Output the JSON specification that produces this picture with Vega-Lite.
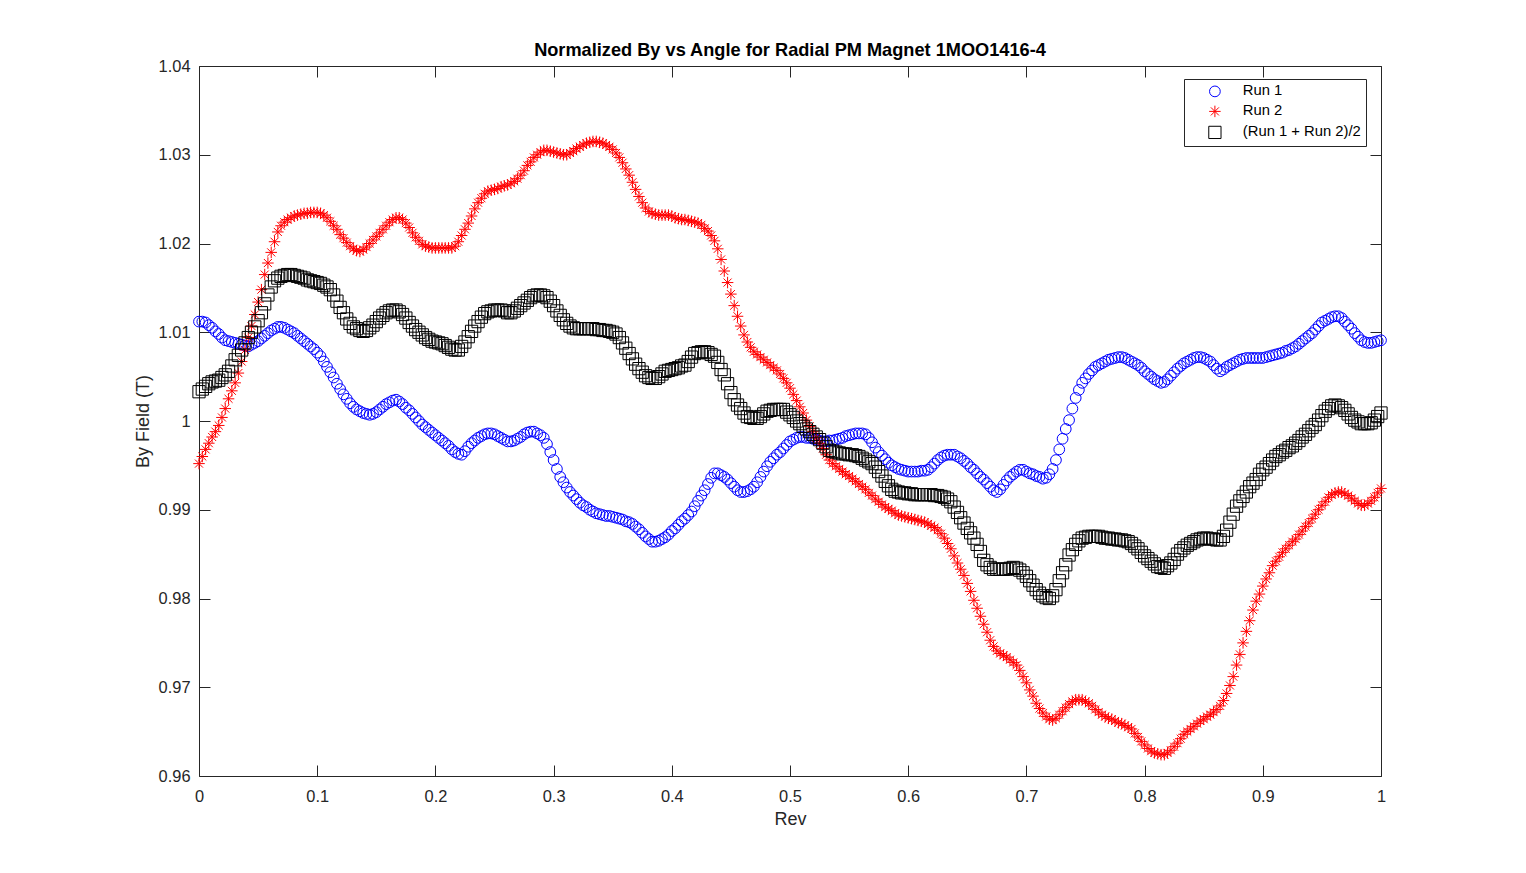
{
"$schema":"https://vega.github.io/schema/vega-lite/v6.json",
"width":1182,"height":710,
"autosize":{"type":"none"},
"padding":{"left":199,"top":66,"right":145,"bottom":97},
"background":"white",
"title":{"text":"Normalized By vs Angle for Radial PM Magnet 1MOO1416-4","font":"Liberation Sans","fontSize":18.2,"fontWeight":"bold","color":"#000000","offset":6,"dy":8,"anchor":"middle"},
"data":{"values":[
{"x":0,"a":1.0112,"b":0.9952,"c":1.0033},
{"x":0.0028,"a":1.0112,"b":0.996,"c":1.0036},
{"x":0.0056,"a":1.0111,"b":0.9968,"c":1.0039},
{"x":0.0083,"a":1.0108,"b":0.9975,"c":1.0042},
{"x":0.0111,"a":1.0105,"b":0.9982,"c":1.0044},
{"x":0.0139,"a":1.0101,"b":0.9988,"c":1.0045},
{"x":0.0167,"a":1.0098,"b":0.9995,"c":1.0046},
{"x":0.0194,"a":1.0094,"b":1.0004,"c":1.0049},
{"x":0.0222,"a":1.0091,"b":1.0014,"c":1.0052},
{"x":0.025,"a":1.009,"b":1.0025,"c":1.0056},
{"x":0.0278,"a":1.0089,"b":1.0034,"c":1.0062},
{"x":0.0306,"a":1.0088,"b":1.0043,"c":1.0069},
{"x":0.0333,"a":1.0087,"b":1.0054,"c":1.0074},
{"x":0.0361,"a":1.0086,"b":1.0067,"c":1.008},
{"x":0.0389,"a":1.0085,"b":1.008,"c":1.0088},
{"x":0.0417,"a":1.0084,"b":1.0094,"c":1.0094},
{"x":0.0444,"a":1.0086,"b":1.0107,"c":1.01},
{"x":0.0472,"a":1.0088,"b":1.012,"c":1.0106},
{"x":0.05,"a":1.009,"b":1.0134,"c":1.0113},
{"x":0.0528,"a":1.0093,"b":1.0148,"c":1.0122},
{"x":0.0556,"a":1.0096,"b":1.0165,"c":1.0132},
{"x":0.0583,"a":1.0099,"b":1.0178,"c":1.0142},
{"x":0.0611,"a":1.0102,"b":1.019,"c":1.0151},
{"x":0.0639,"a":1.0104,"b":1.0202,"c":1.0158},
{"x":0.0667,"a":1.0106,"b":1.0213,"c":1.0161},
{"x":0.0694,"a":1.0106,"b":1.022,"c":1.0163},
{"x":0.0722,"a":1.0105,"b":1.0224,"c":1.0164},
{"x":0.075,"a":1.0103,"b":1.0227,"c":1.0165},
{"x":0.0778,"a":1.0101,"b":1.0229,"c":1.0165},
{"x":0.0806,"a":1.0099,"b":1.0231,"c":1.0164},
{"x":0.0833,"a":1.0096,"b":1.0232,"c":1.0163},
{"x":0.0861,"a":1.0093,"b":1.0233,"c":1.0162},
{"x":0.0889,"a":1.009,"b":1.0234,"c":1.0161},
{"x":0.0917,"a":1.0087,"b":1.0234,"c":1.0159},
{"x":0.0944,"a":1.0084,"b":1.0235,"c":1.0158},
{"x":0.0972,"a":1.0081,"b":1.0235,"c":1.0157},
{"x":0.1,"a":1.0077,"b":1.0235,"c":1.0156},
{"x":0.1028,"a":1.0073,"b":1.0234,"c":1.0155},
{"x":0.1056,"a":1.0067,"b":1.0232,"c":1.0153},
{"x":0.1083,"a":1.0061,"b":1.0229,"c":1.0151},
{"x":0.1111,"a":1.0055,"b":1.0225,"c":1.0148},
{"x":0.1139,"a":1.0049,"b":1.022,"c":1.0142},
{"x":0.1167,"a":1.0042,"b":1.0216,"c":1.0135},
{"x":0.1194,"a":1.0036,"b":1.021,"c":1.0128},
{"x":0.1222,"a":1.003,"b":1.0206,"c":1.0122},
{"x":0.125,"a":1.0025,"b":1.0201,"c":1.0115},
{"x":0.1278,"a":1.002,"b":1.0197,"c":1.011},
{"x":0.1306,"a":1.0016,"b":1.0194,"c":1.0106},
{"x":0.1333,"a":1.0013,"b":1.0192,"c":1.0104},
{"x":0.1361,"a":1.0011,"b":1.0191,"c":1.0102},
{"x":0.1389,"a":1.0009,"b":1.0193,"c":1.0101},
{"x":0.1417,"a":1.0008,"b":1.0196,"c":1.0102},
{"x":0.1444,"a":1.0007,"b":1.02,"c":1.0105},
{"x":0.1472,"a":1.0008,"b":1.0204,"c":1.0108},
{"x":0.15,"a":1.001,"b":1.0208,"c":1.0112},
{"x":0.1528,"a":1.0013,"b":1.0212,"c":1.0116},
{"x":0.1556,"a":1.0016,"b":1.0216,"c":1.0119},
{"x":0.1583,"a":1.0019,"b":1.022,"c":1.0122},
{"x":0.1611,"a":1.0021,"b":1.0224,"c":1.0124},
{"x":0.1639,"a":1.0023,"b":1.0227,"c":1.0125},
{"x":0.1667,"a":1.0024,"b":1.0229,"c":1.0125},
{"x":0.1694,"a":1.0022,"b":1.0229,"c":1.0123},
{"x":0.1722,"a":1.0019,"b":1.0227,"c":1.012},
{"x":0.175,"a":1.0015,"b":1.0223,"c":1.0116},
{"x":0.1778,"a":1.0012,"b":1.0218,"c":1.0111},
{"x":0.1806,"a":1.0008,"b":1.0212,"c":1.0107},
{"x":0.1833,"a":1.0004,"b":1.0207,"c":1.0103},
{"x":0.1861,"a":1.0,"b":1.0203,"c":1.01},
{"x":0.1889,"a":0.9996,"b":1.0199,"c":1.0097},
{"x":0.1917,"a":0.9993,"b":1.0197,"c":1.0094},
{"x":0.1944,"a":0.999,"b":1.0196,"c":1.0092},
{"x":0.1972,"a":0.9987,"b":1.0195,"c":1.009},
{"x":0.2,"a":0.9984,"b":1.0195,"c":1.0089},
{"x":0.2028,"a":0.9981,"b":1.0195,"c":1.0088},
{"x":0.2056,"a":0.9978,"b":1.0195,"c":1.0087},
{"x":0.2083,"a":0.9975,"b":1.0195,"c":1.0085},
{"x":0.2111,"a":0.9972,"b":1.0195,"c":1.0083},
{"x":0.2139,"a":0.9968,"b":1.0195,"c":1.0081},
{"x":0.2167,"a":0.9965,"b":1.0197,"c":1.008},
{"x":0.2194,"a":0.9963,"b":1.0202,"c":1.008},
{"x":0.2222,"a":0.9962,"b":1.0209,"c":1.0084},
{"x":0.225,"a":0.9966,"b":1.0216,"c":1.0089},
{"x":0.2278,"a":0.9971,"b":1.0223,"c":1.0095},
{"x":0.2306,"a":0.9975,"b":1.0231,"c":1.0101},
{"x":0.2333,"a":0.9978,"b":1.0239,"c":1.0107},
{"x":0.2361,"a":0.9981,"b":1.0246,"c":1.0112},
{"x":0.2389,"a":0.9983,"b":1.0251,"c":1.0117},
{"x":0.2417,"a":0.9985,"b":1.0256,"c":1.0121},
{"x":0.2444,"a":0.9986,"b":1.0259,"c":1.0123},
{"x":0.2472,"a":0.9986,"b":1.026,"c":1.0124},
{"x":0.25,"a":0.9985,"b":1.0261,"c":1.0125},
{"x":0.2528,"a":0.9983,"b":1.0262,"c":1.0125},
{"x":0.2556,"a":0.9981,"b":1.0264,"c":1.0125},
{"x":0.2583,"a":0.9979,"b":1.0265,"c":1.0124},
{"x":0.2611,"a":0.9977,"b":1.0266,"c":1.0122},
{"x":0.2639,"a":0.9977,"b":1.0268,"c":1.0122},
{"x":0.2667,"a":0.9978,"b":1.027,"c":1.0124},
{"x":0.2694,"a":0.998,"b":1.0273,"c":1.0127},
{"x":0.2722,"a":0.9982,"b":1.0277,"c":1.013},
{"x":0.275,"a":0.9985,"b":1.0282,"c":1.0133},
{"x":0.2778,"a":0.9987,"b":1.0288,"c":1.0136},
{"x":0.2806,"a":0.9988,"b":1.0292,"c":1.0139},
{"x":0.2833,"a":0.9988,"b":1.0297,"c":1.0141},
{"x":0.2861,"a":0.9986,"b":1.03,"c":1.0142},
{"x":0.2889,"a":0.9984,"b":1.0303,"c":1.0142},
{"x":0.2917,"a":0.9981,"b":1.0305,"c":1.0141},
{"x":0.2944,"a":0.9974,"b":1.0305,"c":1.0139},
{"x":0.2972,"a":0.9965,"b":1.0304,"c":1.0135},
{"x":0.3,"a":0.9956,"b":1.0303,"c":1.013},
{"x":0.3028,"a":0.9946,"b":1.0302,"c":1.0124},
{"x":0.3056,"a":0.9937,"b":1.0301,"c":1.0119},
{"x":0.3083,"a":0.9931,"b":1.03,"c":1.0114},
{"x":0.3111,"a":0.9925,"b":1.03,"c":1.011},
{"x":0.3139,"a":0.992,"b":1.0302,"c":1.0107},
{"x":0.3167,"a":0.9916,"b":1.0304,"c":1.0105},
{"x":0.3194,"a":0.9912,"b":1.0307,"c":1.0104},
{"x":0.3222,"a":0.9908,"b":1.0309,"c":1.0104},
{"x":0.325,"a":0.9905,"b":1.0311,"c":1.0104},
{"x":0.3278,"a":0.9903,"b":1.0313,"c":1.0104},
{"x":0.3306,"a":0.99,"b":1.0314,"c":1.0104},
{"x":0.3333,"a":0.9898,"b":1.0315,"c":1.0104},
{"x":0.3361,"a":0.9896,"b":1.0315,"c":1.0103},
{"x":0.3389,"a":0.9895,"b":1.0314,"c":1.0103},
{"x":0.3417,"a":0.9894,"b":1.0313,"c":1.0102},
{"x":0.3444,"a":0.9893,"b":1.0311,"c":1.0102},
{"x":0.3472,"a":0.9893,"b":1.0309,"c":1.0101},
{"x":0.35,"a":0.9892,"b":1.0306,"c":1.01},
{"x":0.3528,"a":0.9891,"b":1.0302,"c":1.0098},
{"x":0.3556,"a":0.989,"b":1.0297,"c":1.0094},
{"x":0.3583,"a":0.9889,"b":1.0291,"c":1.0088},
{"x":0.3611,"a":0.9887,"b":1.0284,"c":1.0082},
{"x":0.3639,"a":0.9886,"b":1.0277,"c":1.0076},
{"x":0.3667,"a":0.9884,"b":1.0269,"c":1.007},
{"x":0.3694,"a":0.9881,"b":1.0261,"c":1.0064},
{"x":0.3722,"a":0.9878,"b":1.0253,"c":1.0059},
{"x":0.375,"a":0.9874,"b":1.0246,"c":1.0055},
{"x":0.3778,"a":0.987,"b":1.024,"c":1.0051},
{"x":0.3806,"a":0.9867,"b":1.0236,"c":1.0049},
{"x":0.3833,"a":0.9864,"b":1.0234,"c":1.0048},
{"x":0.3861,"a":0.9864,"b":1.0233,"c":1.0048},
{"x":0.3889,"a":0.9865,"b":1.0232,"c":1.005},
{"x":0.3917,"a":0.9867,"b":1.0232,"c":1.0053},
{"x":0.3944,"a":0.9869,"b":1.0232,"c":1.0056},
{"x":0.3972,"a":0.9872,"b":1.0232,"c":1.0057},
{"x":0.4,"a":0.9876,"b":1.0231,"c":1.0058},
{"x":0.4028,"a":0.9879,"b":1.0229,"c":1.0059},
{"x":0.4056,"a":0.9883,"b":1.0228,"c":1.006},
{"x":0.4083,"a":0.9887,"b":1.0227,"c":1.0062},
{"x":0.4111,"a":0.989,"b":1.0227,"c":1.0063},
{"x":0.4139,"a":0.9894,"b":1.0226,"c":1.0067},
{"x":0.4167,"a":0.9898,"b":1.0225,"c":1.0072},
{"x":0.4194,"a":0.9904,"b":1.0224,"c":1.0076},
{"x":0.4222,"a":0.991,"b":1.0223,"c":1.0077},
{"x":0.425,"a":0.9916,"b":1.0221,"c":1.0078},
{"x":0.4278,"a":0.9922,"b":1.0217,"c":1.0078},
{"x":0.4306,"a":0.9929,"b":1.0214,"c":1.0077},
{"x":0.4333,"a":0.9936,"b":1.0209,"c":1.0075},
{"x":0.4361,"a":0.9941,"b":1.0203,"c":1.0073},
{"x":0.4389,"a":0.9941,"b":1.0194,"c":1.0066},
{"x":0.4417,"a":0.9939,"b":1.0182,"c":1.0058},
{"x":0.4444,"a":0.9937,"b":1.0169,"c":1.0052},
{"x":0.4472,"a":0.9934,"b":1.0156,"c":1.0042},
{"x":0.45,"a":0.993,"b":1.0143,"c":1.0032},
{"x":0.4528,"a":0.9926,"b":1.013,"c":1.0024},
{"x":0.4556,"a":0.9922,"b":1.0118,"c":1.0018},
{"x":0.4583,"a":0.992,"b":1.0107,"c":1.0014},
{"x":0.4611,"a":0.992,"b":1.0097,"c":1.0009},
{"x":0.4639,"a":0.9921,"b":1.0089,"c":1.0005},
{"x":0.4667,"a":0.9923,"b":1.0083,"c":1.0004},
{"x":0.4694,"a":0.9926,"b":1.0078,"c":1.0003},
{"x":0.4722,"a":0.9931,"b":1.0075,"c":1.0003},
{"x":0.475,"a":0.9937,"b":1.0072,"c":1.0005},
{"x":0.4778,"a":0.9943,"b":1.0069,"c":1.0008},
{"x":0.4806,"a":0.9949,"b":1.0066,"c":1.0011},
{"x":0.4833,"a":0.9954,"b":1.0063,"c":1.0012},
{"x":0.4861,"a":0.9958,"b":1.006,"c":1.0013},
{"x":0.4889,"a":0.9962,"b":1.0057,"c":1.0013},
{"x":0.4917,"a":0.9965,"b":1.0053,"c":1.0013},
{"x":0.4944,"a":0.9969,"b":1.0048,"c":1.0013},
{"x":0.4972,"a":0.9973,"b":1.0043,"c":1.001},
{"x":0.5,"a":0.9977,"b":1.0037,"c":1.0007},
{"x":0.5028,"a":0.9979,"b":1.003,"c":1.0004},
{"x":0.5056,"a":0.9981,"b":1.0023,"c":1.0},
{"x":0.5083,"a":0.9982,"b":1.0016,"c":0.9997},
{"x":0.5111,"a":0.9982,"b":1.0009,"c":0.9994},
{"x":0.5139,"a":0.9981,"b":1.0001,"c":0.9991},
{"x":0.5167,"a":0.9981,"b":0.9994,"c":0.9988},
{"x":0.5194,"a":0.998,"b":0.9988,"c":0.9985},
{"x":0.5222,"a":0.9979,"b":0.9981,"c":0.9982},
{"x":0.525,"a":0.9978,"b":0.9975,"c":0.9979},
{"x":0.5278,"a":0.9977,"b":0.9969,"c":0.9975},
{"x":0.5306,"a":0.9977,"b":0.9962,"c":0.9971},
{"x":0.5333,"a":0.9978,"b":0.9956,"c":0.9967},
{"x":0.5361,"a":0.9978,"b":0.9952,"c":0.9966},
{"x":0.5389,"a":0.9979,"b":0.9949,"c":0.9965},
{"x":0.5417,"a":0.998,"b":0.9946,"c":0.9964},
{"x":0.5444,"a":0.9981,"b":0.9943,"c":0.9963},
{"x":0.5472,"a":0.9983,"b":0.994,"c":0.9963},
{"x":0.55,"a":0.9984,"b":0.9938,"c":0.9962},
{"x":0.5528,"a":0.9985,"b":0.9935,"c":0.9962},
{"x":0.5556,"a":0.9986,"b":0.9932,"c":0.9961},
{"x":0.5583,"a":0.9986,"b":0.9929,"c":0.996},
{"x":0.5611,"a":0.9986,"b":0.9926,"c":0.9958},
{"x":0.5639,"a":0.9985,"b":0.9923,"c":0.9956},
{"x":0.5667,"a":0.9981,"b":0.9919,"c":0.9954},
{"x":0.5694,"a":0.9976,"b":0.9916,"c":0.9952},
{"x":0.5722,"a":0.997,"b":0.9912,"c":0.9948},
{"x":0.575,"a":0.9965,"b":0.9909,"c":0.9943},
{"x":0.5778,"a":0.9961,"b":0.9906,"c":0.9938},
{"x":0.5806,"a":0.9957,"b":0.9903,"c":0.9932},
{"x":0.5833,"a":0.9953,"b":0.9901,"c":0.9927},
{"x":0.5861,"a":0.995,"b":0.9899,"c":0.9923},
{"x":0.5889,"a":0.9948,"b":0.9896,"c":0.9921},
{"x":0.5917,"a":0.9946,"b":0.9894,"c":0.992},
{"x":0.5944,"a":0.9945,"b":0.9893,"c":0.9919},
{"x":0.5972,"a":0.9944,"b":0.9892,"c":0.9919},
{"x":0.6,"a":0.9943,"b":0.9891,"c":0.9918},
{"x":0.6028,"a":0.9943,"b":0.989,"c":0.9918},
{"x":0.6056,"a":0.9943,"b":0.9889,"c":0.9917},
{"x":0.6083,"a":0.9943,"b":0.9888,"c":0.9917},
{"x":0.6111,"a":0.9944,"b":0.9887,"c":0.9917},
{"x":0.6139,"a":0.9944,"b":0.9886,"c":0.9917},
{"x":0.6167,"a":0.9945,"b":0.9884,"c":0.9917},
{"x":0.6194,"a":0.9948,"b":0.9882,"c":0.9917},
{"x":0.6222,"a":0.9952,"b":0.988,"c":0.9916},
{"x":0.625,"a":0.9956,"b":0.9877,"c":0.9916},
{"x":0.6278,"a":0.9959,"b":0.9873,"c":0.9915},
{"x":0.6306,"a":0.9961,"b":0.9868,"c":0.9914},
{"x":0.6333,"a":0.9962,"b":0.9862,"c":0.9912},
{"x":0.6361,"a":0.9962,"b":0.9856,"c":0.9909},
{"x":0.6389,"a":0.9962,"b":0.9848,"c":0.9903},
{"x":0.6417,"a":0.996,"b":0.984,"c":0.9897},
{"x":0.6444,"a":0.9958,"b":0.9833,"c":0.9891},
{"x":0.6472,"a":0.9955,"b":0.9826,"c":0.9885},
{"x":0.65,"a":0.9952,"b":0.9817,"c":0.9879},
{"x":0.6528,"a":0.9948,"b":0.9808,"c":0.9874},
{"x":0.6556,"a":0.9945,"b":0.9798,"c":0.9868},
{"x":0.6583,"a":0.9941,"b":0.9789,"c":0.9861},
{"x":0.6611,"a":0.9937,"b":0.978,"c":0.9853},
{"x":0.6639,"a":0.9934,"b":0.9771,"c":0.9843},
{"x":0.6667,"a":0.993,"b":0.9762,"c":0.9838},
{"x":0.6694,"a":0.9926,"b":0.9753,"c":0.9835},
{"x":0.6722,"a":0.9922,"b":0.9746,"c":0.9833},
{"x":0.675,"a":0.992,"b":0.9741,"c":0.9833},
{"x":0.6778,"a":0.9923,"b":0.9738,"c":0.9833},
{"x":0.6806,"a":0.9928,"b":0.9736,"c":0.9833},
{"x":0.6833,"a":0.9933,"b":0.9734,"c":0.9833},
{"x":0.6861,"a":0.9937,"b":0.9731,"c":0.9834},
{"x":0.6889,"a":0.994,"b":0.9728,"c":0.9835},
{"x":0.6917,"a":0.9943,"b":0.9725,"c":0.9834},
{"x":0.6944,"a":0.9945,"b":0.9719,"c":0.9832},
{"x":0.6972,"a":0.9945,"b":0.9712,"c":0.9829},
{"x":0.7,"a":0.9943,"b":0.9705,"c":0.9825},
{"x":0.7028,"a":0.9941,"b":0.9697,"c":0.982},
{"x":0.7056,"a":0.994,"b":0.969,"c":0.9815},
{"x":0.7083,"a":0.9938,"b":0.9682,"c":0.981},
{"x":0.7111,"a":0.9937,"b":0.9676,"c":0.9806},
{"x":0.7139,"a":0.9935,"b":0.9671,"c":0.9803},
{"x":0.7167,"a":0.9936,"b":0.9667,"c":0.9801},
{"x":0.7194,"a":0.994,"b":0.9664,"c":0.98},
{"x":0.7222,"a":0.9946,"b":0.9663,"c":0.9803},
{"x":0.725,"a":0.9956,"b":0.9665,"c":0.981},
{"x":0.7278,"a":0.9968,"b":0.9669,"c":0.982},
{"x":0.7306,"a":0.998,"b":0.9673,"c":0.9829},
{"x":0.7333,"a":0.9991,"b":0.9677,"c":0.9838},
{"x":0.7361,"a":1.0001,"b":0.9681,"c":0.9849},
{"x":0.7389,"a":1.0014,"b":0.9684,"c":0.9855},
{"x":0.7417,"a":1.0026,"b":0.9686,"c":0.9861},
{"x":0.7444,"a":1.0035,"b":0.9686,"c":0.9865},
{"x":0.7472,"a":1.0043,"b":0.9686,"c":0.9868},
{"x":0.75,"a":1.0048,"b":0.9684,"c":0.9869},
{"x":0.7528,"a":1.0053,"b":0.9682,"c":0.987},
{"x":0.7556,"a":1.0057,"b":0.9679,"c":0.987},
{"x":0.7583,"a":1.0061,"b":0.9675,"c":0.987},
{"x":0.7611,"a":1.0063,"b":0.9672,"c":0.987},
{"x":0.7639,"a":1.0065,"b":0.9669,"c":0.9869},
{"x":0.7667,"a":1.0067,"b":0.9667,"c":0.9868},
{"x":0.7694,"a":1.0069,"b":0.9665,"c":0.9868},
{"x":0.7722,"a":1.007,"b":0.9664,"c":0.9867},
{"x":0.775,"a":1.0071,"b":0.9662,"c":0.9867},
{"x":0.7778,"a":1.0072,"b":0.966,"c":0.9866},
{"x":0.7806,"a":1.0072,"b":0.9659,"c":0.9866},
{"x":0.7833,"a":1.0071,"b":0.9657,"c":0.9865},
{"x":0.7861,"a":1.0069,"b":0.9655,"c":0.9864},
{"x":0.7889,"a":1.0067,"b":0.9653,"c":0.9862},
{"x":0.7917,"a":1.0065,"b":0.9648,"c":0.9859},
{"x":0.7944,"a":1.0063,"b":0.9644,"c":0.9856},
{"x":0.7972,"a":1.006,"b":0.9639,"c":0.9852},
{"x":0.8,"a":1.0056,"b":0.9635,"c":0.9848},
{"x":0.8028,"a":1.0053,"b":0.9631,"c":0.9845},
{"x":0.8056,"a":1.005,"b":0.9628,"c":0.9842},
{"x":0.8083,"a":1.0047,"b":0.9626,"c":0.9839},
{"x":0.8111,"a":1.0045,"b":0.9625,"c":0.9836},
{"x":0.8139,"a":1.0043,"b":0.9624,"c":0.9835},
{"x":0.8167,"a":1.0044,"b":0.9624,"c":0.9834},
{"x":0.8194,"a":1.0047,"b":0.9626,"c":0.9837},
{"x":0.8222,"a":1.0051,"b":0.9629,"c":0.984},
{"x":0.825,"a":1.0055,"b":0.9633,"c":0.9844},
{"x":0.8278,"a":1.0059,"b":0.9637,"c":0.985},
{"x":0.8306,"a":1.0062,"b":0.9642,"c":0.9854},
{"x":0.8333,"a":1.0065,"b":0.9647,"c":0.9857},
{"x":0.8361,"a":1.0067,"b":0.965,"c":0.986},
{"x":0.8389,"a":1.0069,"b":0.9653,"c":0.9862},
{"x":0.8417,"a":1.0071,"b":0.9656,"c":0.9864},
{"x":0.8444,"a":1.0072,"b":0.9659,"c":0.9866},
{"x":0.8472,"a":1.0072,"b":0.9662,"c":0.9867},
{"x":0.85,"a":1.0071,"b":0.9664,"c":0.9868},
{"x":0.8528,"a":1.0069,"b":0.9667,"c":0.9868},
{"x":0.8556,"a":1.0067,"b":0.9669,"c":0.9867},
{"x":0.8583,"a":1.0063,"b":0.9672,"c":0.9867},
{"x":0.8611,"a":1.0059,"b":0.9675,"c":0.9866},
{"x":0.8639,"a":1.0056,"b":0.9679,"c":0.9866},
{"x":0.8667,"a":1.0058,"b":0.9685,"c":0.987},
{"x":0.8694,"a":1.0061,"b":0.9693,"c":0.9877},
{"x":0.8722,"a":1.0063,"b":0.9702,"c":0.9886},
{"x":0.875,"a":1.0065,"b":0.9712,"c":0.9895},
{"x":0.8778,"a":1.0067,"b":0.9725,"c":0.9904},
{"x":0.8806,"a":1.0069,"b":0.9737,"c":0.991},
{"x":0.8833,"a":1.007,"b":0.975,"c":0.9915},
{"x":0.8861,"a":1.0071,"b":0.9763,"c":0.992},
{"x":0.8889,"a":1.0071,"b":0.9775,"c":0.9926},
{"x":0.8917,"a":1.0071,"b":0.9787,"c":0.993},
{"x":0.8944,"a":1.0071,"b":0.9797,"c":0.9934},
{"x":0.8972,"a":1.0071,"b":0.9805,"c":0.994},
{"x":0.9,"a":1.0071,"b":0.9814,"c":0.9945},
{"x":0.9028,"a":1.0072,"b":0.9822,"c":0.9948},
{"x":0.9056,"a":1.0073,"b":0.9829,"c":0.9952},
{"x":0.9083,"a":1.0074,"b":0.9837,"c":0.9956},
{"x":0.9111,"a":1.0075,"b":0.9842,"c":0.996},
{"x":0.9139,"a":1.0076,"b":0.9847,"c":0.9962},
{"x":0.9167,"a":1.0077,"b":0.9852,"c":0.9965},
{"x":0.9194,"a":1.0079,"b":0.9856,"c":0.9967},
{"x":0.9222,"a":1.008,"b":0.986,"c":0.997},
{"x":0.925,"a":1.0082,"b":0.9864,"c":0.9972},
{"x":0.9278,"a":1.0084,"b":0.9867,"c":0.9975},
{"x":0.9306,"a":1.0087,"b":0.9872,"c":0.9978},
{"x":0.9333,"a":1.009,"b":0.9876,"c":0.9982},
{"x":0.9361,"a":1.0093,"b":0.9881,"c":0.9985},
{"x":0.9389,"a":1.0096,"b":0.9885,"c":0.9989},
{"x":0.9417,"a":1.0099,"b":0.989,"c":0.9993},
{"x":0.9444,"a":1.0103,"b":0.9895,"c":0.9996},
{"x":0.9472,"a":1.0107,"b":0.99,"c":1.0001},
{"x":0.95,"a":1.0111,"b":0.9905,"c":1.0006},
{"x":0.9528,"a":1.0113,"b":0.9909,"c":1.0011},
{"x":0.9556,"a":1.0115,"b":0.9914,"c":1.0014},
{"x":0.9583,"a":1.0117,"b":0.9917,"c":1.0017},
{"x":0.9611,"a":1.0118,"b":0.9919,"c":1.0018},
{"x":0.9639,"a":1.0118,"b":0.992,"c":1.0017},
{"x":0.9667,"a":1.0116,"b":0.992,"c":1.0015},
{"x":0.9694,"a":1.0112,"b":0.9918,"c":1.0012},
{"x":0.9722,"a":1.0108,"b":0.9916,"c":1.0008},
{"x":0.975,"a":1.0104,"b":0.9913,"c":1.0004},
{"x":0.9778,"a":1.0099,"b":0.991,"c":1.0001},
{"x":0.9806,"a":1.0095,"b":0.9907,"c":0.9999},
{"x":0.9833,"a":1.0091,"b":0.9905,"c":0.9997},
{"x":0.9861,"a":1.0089,"b":0.9905,"c":0.9997},
{"x":0.9889,"a":1.0088,"b":0.9907,"c":0.9997},
{"x":0.9917,"a":1.0088,"b":0.991,"c":0.9998},
{"x":0.9944,"a":1.0089,"b":0.9914,"c":1.0001},
{"x":0.9972,"a":1.009,"b":0.9919,"c":1.0005},
{"x":1,"a":1.0091,"b":0.9924,"c":1.0009}
]},
"transform":[{"fold":["a","b","c"],"as":["s","v"]}],
"layer":[
{"mark":{"type":"point","filled":false,"strokeWidth":1,"opacity":1},
 "encoding":{
  "x":{"field":"x","type":"quantitative","scale":{"domain":[0,1],"nice":false,"zero":false},
       "axis":{"orient":"bottom","values":[0,0.1,0.2,0.3,0.4,0.5,0.6,0.7,0.8,0.9,1],"format":"~g","title":"Rev","labelFlush":false,"labelOverlap":false,"tickSize":-11,"labelPadding":23,"titlePadding":6}},
  "y":{"field":"v","type":"quantitative","scale":{"domain":[0.96,1.04],"nice":false,"zero":false},
       "axis":{"orient":"left","values":[0.96,0.97,0.98,0.99,1,1.01,1.02,1.03,1.04],"format":"~g","title":"By Field (T)","labelFlush":false,"labelOverlap":false,"tickSize":-11,"labelPadding":20,"titlePadding":6}},
  "color":{"field":"s","type":"nominal","scale":{"domain":["a","b","c"],"range":["#0000ff","#ff0000","#000000"]},
       "legend":{"title":null,"orient":"none","legendX":985,"legendY":13,"labelExpr":"datum.label == 'a' ? 'Run 1' : datum.label == 'b' ? 'Run 2' : '(Run 1 + Run 2)/2'"}},
  "shape":{"field":"s","type":"nominal","scale":{"domain":["a","b","c"],"range":["circle","M-1,0L1,0M0,-1L0,1M-0.7,-0.7L0.7,0.7M-0.7,0.7L0.7,-0.7","square"]},
       "legend":{"title":null,"orient":"none","legendX":985,"legendY":13,"labelExpr":"datum.label == 'a' ? 'Run 1' : datum.label == 'b' ? 'Run 2' : '(Run 1 + Run 2)/2'"}},
  "size":{"field":"s","type":"nominal","scale":{"domain":["a","b","c"],"range":[115,150,70]},
       "legend":{"title":null,"orient":"none","legendX":985,"legendY":13,"labelExpr":"datum.label == 'a' ? 'Run 1' : datum.label == 'b' ? 'Run 2' : '(Run 1 + Run 2)/2'"}},
  "order":{"field":"s","type":"ordinal"}
 }},
{"mark":{"type":"point","opacity":0},
 "encoding":{
  "x":{"field":"x","type":"quantitative","scale":{"domain":[0,1],"nice":false,"zero":false},
       "axis":{"orient":"top","values":[0,0.1,0.2,0.3,0.4,0.5,0.6,0.7,0.8,0.9,1],"labels":false,"title":null,"tickSize":-11}},
  "y":{"field":"v","type":"quantitative","scale":{"domain":[0.96,1.04],"nice":false,"zero":false},
       "axis":{"orient":"right","values":[0.96,0.97,0.98,0.99,1,1.01,1.02,1.03,1.04],"labels":false,"title":null,"tickSize":-11}}
 }}
],
"resolve":{"scale":{"x":"independent","y":"independent"},"axis":{"x":"independent","y":"independent"}},
"config":{
  "font":"Liberation Sans",
  "view":{"stroke":null},
  "axis":{"grid":false,"domainColor":"#262626","domainWidth":1,"tickColor":"#262626","tickWidth":1,"labelColor":"#262626","labelFont":"Liberation Sans","labelFontSize":16.4,"titleFont":"Liberation Sans","titleFontSize":18,"titleFontWeight":"normal","titleColor":"#262626"},
  "legend":{"padding":5,"rowPadding":4,"strokeColor":"#262626","fillColor":"#ffffff","cornerRadius":0,"labelFont":"Liberation Sans","labelFontSize":14.8,"labelColor":"#000000","symbolOffset":18.5,"labelOffset":20.5,"symbolStrokeWidth":1}
}
}
